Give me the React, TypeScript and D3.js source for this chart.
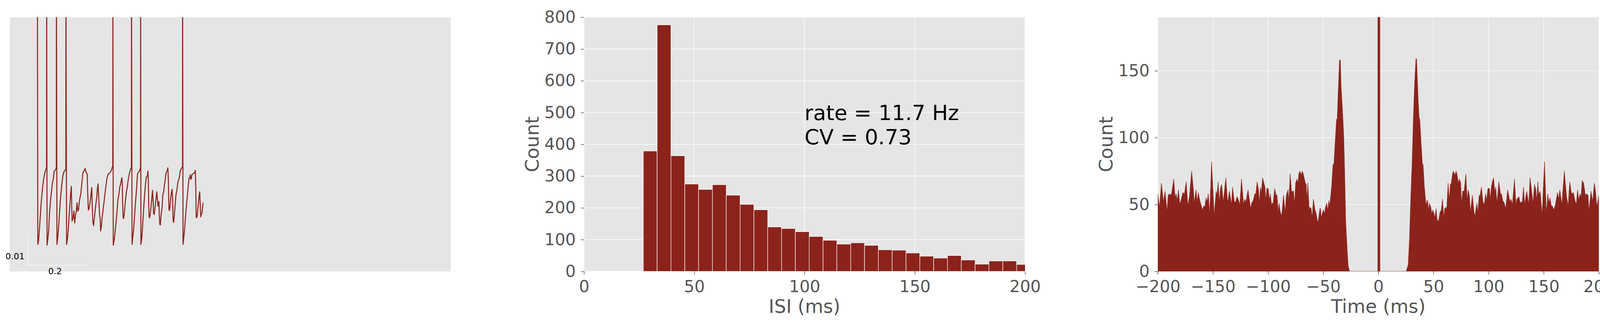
import React, { useEffect, useRef } from 'react';
import * as d3 from 'd3';

// ---- panel 1: membrane potential trace, [time (s), potential (mV)]
const traceSamples: [number, number][] = [
	[0.0010, 20], [0.0024, -70.1], [0.0048, -69.2], [0.0081, -65.0], [0.0119, -59.5], [0.0152, -54.9],
	[0.0190, -50.7], [0.0229, -47.5], [0.0262, -45.6], [0.0295, -44.2], [0.0324, -43.4], [0.0343, -42.8],
	[0.0348, 20], [0.0362, -70.4], [0.0390, -68.3], [0.0419, -65.5], [0.0452, -59.0], [0.0490, -54.4],
	[0.0524, -51.2], [0.0562, -47.9], [0.0595, -46.8], [0.0619, -44.2], [0.0652, -43.8], [0.0681, -43.4],
	[0.0700, -42.8], [0.0705, 20], [0.0724, -70.1], [0.0762, -66.9], [0.0810, -60.0], [0.0857, -53.5],
	[0.0905, -48.4], [0.0943, -45.6], [0.0976, -44.4], [0.1010, -43.8], [0.1048, -43.7], [0.1052, 20],
	[0.1076, -70.1], [0.1105, -68.3], [0.1143, -64.1], [0.1190, -56.7], [0.1224, -52.1], [0.1248, -49.5],
	[0.1276, -61.8], [0.1310, -60.9], [0.1343, -58.2], [0.1371, -62.5], [0.1405, -59.5], [0.1429, -58.6],
	[0.1457, -55.3], [0.1486, -58.3], [0.1510, -57.9], [0.1548, -54.4], [0.1595, -52.1], [0.1629, -48.8],
	[0.1667, -45.1], [0.1690, -44.2], [0.1724, -43.8], [0.1752, -43.1], [0.1776, -44.0], [0.1800, -44.7],
	[0.1829, -45.1], [0.1848, -52.1], [0.1871, -57.9], [0.1895, -57.4], [0.1914, -56.3], [0.1938, -54.9],
	[0.1971, -52.1], [0.1995, -49.9], [0.2014, -56.7], [0.2038, -62.3], [0.2062, -63.4], [0.2095, -60.4],
	[0.2133, -56.7], [0.2176, -53.5], [0.2200, -50.5], [0.2224, -48.6], [0.2252, -53.9], [0.2286, -60.4],
	[0.2300, -60.6], [0.2319, -65.3], [0.2343, -64.1], [0.2371, -60.9], [0.2405, -58.1], [0.2452, -54.4],
	[0.2500, -50.2], [0.2552, -46.5], [0.2595, -45.1], [0.2633, -44.9], [0.2657, -44.7], [0.2681, -44.2],
	[0.2714, -43.8], [0.2743, -42.7], [0.2762, -42.7], [0.2767, 20], [0.2781, -70.4], [0.2810, -68.8],
	[0.2833, -67.1], [0.2867, -63.7], [0.2905, -60.0], [0.2952, -54.2], [0.2976, -53.0], [0.3000, -51.2],
	[0.3024, -49.5], [0.3048, -48.8], [0.3071, -47.5], [0.3095, -46.4], [0.3110, -47.9], [0.3124, -55.8],
	[0.3143, -60.6], [0.3157, -60.9], [0.3176, -59.7], [0.3205, -56.7], [0.3233, -53.9], [0.3262, -51.4],
	[0.3286, -50.2], [0.3310, -48.4], [0.3333, -46.8], [0.3357, -45.6], [0.3381, -44.4], [0.3405, -43.8],
	[0.3424, -43.1], [0.3443, -42.8], [0.3448, 20], [0.3467, -70.1], [0.3490, -67.8], [0.3524, -65.0],
	[0.3557, -60.0], [0.3595, -54.9], [0.3633, -50.2], [0.3667, -45.1], [0.3700, -44.4], [0.3729, -44.2],
	[0.3752, -43.8], [0.3767, -43.1], [0.3776, -42.8], [0.3781, 20], [0.3790, -70.1], [0.3824, -67.8],
	[0.3857, -62.7], [0.3905, -55.3], [0.3952, -49.3], [0.3986, -46.3], [0.4024, -45.8], [0.4048, -44.0],
	[0.4062, -47.5], [0.4076, -55.3], [0.4090, -60.4], [0.4110, -60.6], [0.4129, -59.5], [0.4157, -57.2],
	[0.4181, -54.6], [0.4214, -50.9], [0.4238, -54.9], [0.4252, -59.0], [0.4276, -59.5], [0.4310, -56.7],
	[0.4338, -54.4], [0.4371, -51.4], [0.4395, -54.2], [0.4414, -56.5], [0.4433, -56.5], [0.4448, -54.9],
	[0.4462, -59.5], [0.4481, -63.0], [0.4500, -63.2], [0.4529, -59.5], [0.4562, -57.1], [0.4595, -52.1],
	[0.4624, -51.4], [0.4652, -48.8], [0.4681, -47.0], [0.4705, -44.9], [0.4729, -44.2], [0.4752, -44.0],
	[0.4776, -42.9], [0.4795, -47.7], [0.4814, -57.6], [0.4833, -58.1], [0.4857, -56.3], [0.4881, -53.5],
	[0.4905, -51.6], [0.4929, -50.5], [0.4948, -53.5], [0.4967, -61.6], [0.4986, -62.3], [0.5010, -60.0],
	[0.5038, -56.5], [0.5071, -52.5], [0.5110, -50.5], [0.5143, -47.9], [0.5167, -47.2], [0.5195, -46.3],
	[0.5224, -44.2], [0.5252, -43.5], [0.5286, -42.8], [0.5310, -42.8], [0.5314, 20], [0.5329, -70.1],
	[0.5357, -67.8], [0.5390, -64.1], [0.5429, -59.0], [0.5467, -54.9], [0.5500, -51.6], [0.5524, -48.8],
	[0.5548, -46.5], [0.5576, -46.3], [0.5595, -45.4], [0.5610, -47.0], [0.5629, -46.8], [0.5652, -45.4],
	[0.5681, -45.1], [0.5714, -44.9], [0.5748, -44.7], [0.5776, -43.8], [0.5795, -49.8], [0.5810, -60.4],
	[0.5833, -60.6], [0.5857, -59.0], [0.5881, -56.3], [0.5910, -53.5], [0.5938, -51.4], [0.5957, -55.8],
	[0.5976, -60.3], [0.6000, -59.3], [0.6024, -59.0], [0.6048, -56.3], [0.6062, -55.3],
];
const scaleBarTime = 0.2;   // s
const scaleBarVolt = 0.01;  // V
const scaleBarOrigin: [number, number] = [-0.0343, -77.5]; // (s, mV)

// ---- panel 2: ISI histogram
const isiBinStart = 26.9;
const isiBinWidth = 6.27;
const isiCounts = [379, 776, 364, 275, 258, 273, 240, 211, 194, 140, 135, 125, 110, 98,
	86, 90, 82, 68, 67, 58, 48, 42, 50, 36, 23, 33, 33, 22];
const isiTicks = [0, 50, 100, 150, 200];
const isiCountTicks = [0, 100, 200, 300, 400, 500, 600, 700, 800];
const statsLines = ["rate = 11.7 Hz", "CV = 0.73"];
const statsAnchor: [number, number] = [100, 400];

// ---- panel 3: autocorrelogram, [lag (ms), count]
const correlogram: [number, number][] = [
	[-200, 58], [-198.5, 48], [-196.7, 66], [-194.9, 52], [-193.4, 60], [-191.6, 45], [-190.6, 57],
	[-189.3, 58], [-188.4, 57], [-187.6, 58], [-185.5, 69], [-184.3, 55], [-183.4, 58], [-182.4, 53],
	[-181.3, 61], [-180.0, 50], [-179.0, 53], [-177.2, 59], [-175.8, 58], [-174.3, 67], [-172.7, 49],
	[-171.3, 56], [-169.3, 75], [-167.8, 62], [-166.9, 51], [-165.4, 61], [-164.2, 52], [-163.3, 59],
	[-161.9, 53], [-159.5, 46], [-158.3, 49], [-157.4, 48], [-156.2, 55], [-155.4, 52], [-154.2, 58],
	[-153.0, 43], [-151.2, 82], [-148.9, 42], [-147.1, 60], [-146.3, 57], [-145.3, 67], [-144.2, 52],
	[-143.2, 62], [-142.1, 65], [-140.6, 52], [-138.3, 70], [-136.7, 51], [-135.1, 60], [-133.2, 50],
	[-132.2, 63], [-130.6, 52], [-129.4, 52], [-128.2, 56], [-126.7, 53], [-125.6, 50], [-124.1, 69],
	[-122.2, 50], [-121.1, 54], [-120.0, 52], [-118.2, 61], [-115.8, 47], [-114.9, 51], [-113.5, 53],
	[-112.0, 58], [-111.1, 58], [-109.9, 67], [-108.7, 61], [-107.8, 51], [-107.0, 63], [-106.1, 59],
	[-105.0, 70], [-102.8, 63], [-102.2, 53], [-101.1, 62], [-99.9, 62], [-98.7, 53], [-97.9, 58],
	[-96.9, 50], [-96.1, 51], [-95.4, 51], [-94.0, 62], [-92.8, 57], [-91.9, 57], [-90.7, 44],
	[-90.0, 51], [-89.0, 45], [-88.1, 42], [-87.5, 43], [-86.0, 57], [-84.5, 44], [-83.4, 57],
	[-81.9, 61], [-81.2, 52], [-80.0, 73], [-78.6, 59], [-77.8, 60], [-76.9, 60], [-76.0, 50],
	[-75.0, 66], [-73.9, 69], [-72.9, 66], [-72.1, 73], [-71.0, 75], [-70.0, 72], [-68.9, 75],
	[-67.8, 72], [-66.2, 66], [-65.4, 65], [-64.7, 53], [-63.9, 66], [-62.7, 46], [-61.9, 48],
	[-60.9, 47], [-60.0, 40], [-58.9, 54], [-57.4, 46], [-56.6, 44], [-55.0, 37], [-54.4, 38],
	[-53.0, 47], [-52.4, 47], [-51.7, 40], [-50.6, 44], [-49.7, 46], [-48.9, 43], [-47.9, 48],
	[-46.8, 51], [-45.8, 45], [-45.0, 53], [-44.2, 49], [-43.2, 56], [-42.3, 64], [-41.1, 80],
	[-40.3, 80], [-39.1, 97], [-37.9, 114], [-37.3, 113], [-36.4, 134], [-35.2, 158], [-34.4, 158],
	[-33.8, 139], [-32.6, 122], [-31.4, 102], [-30.6, 77], [-29.6, 38], [-28.1, 14], [-27.3, 4],
	[-26.1, 0], [-0.5, 0], [0.5, 5000], [1.5, 0], [25.3, 0], [27.1, 5], [28.2, 23], [29.4, 54],
	[30.6, 80], [31.8, 115], [32.9, 140], [34.1, 159], [34.7, 159], [36.2, 127], [37.1, 114],
	[37.6, 114], [38.8, 96], [40.0, 80], [40.6, 80], [41.8, 63], [43.3, 49], [44.1, 53], [44.7, 53],
	[45.5, 45], [46.2, 51], [47.6, 48], [48.5, 43], [49.4, 46], [50.6, 43], [51.4, 40], [52.4, 47],
	[53.3, 39], [54.5, 37], [55.9, 44], [57.1, 46], [58.2, 54], [59.4, 40], [60.2, 47], [61.2, 48],
	[62.0, 46], [63.3, 66], [64.4, 53], [65.3, 65], [66.2, 66], [67.3, 73], [68.2, 75], [69.4, 72],
	[70.6, 75], [71.5, 72], [72.6, 66], [73.5, 69], [74.7, 66], [75.6, 50], [76.5, 60], [77.9, 60],
	[79.4, 73], [80.6, 52], [81.4, 61], [82.6, 57], [83.5, 44], [85.3, 57], [87.1, 42], [87.9, 43],
	[89.4, 51], [90.4, 44], [91.4, 57], [92.1, 56], [93.5, 63], [94.9, 52], [96.1, 50], [97.3, 58],
	[98.2, 53], [99.4, 62], [100.8, 62], [101.5, 53], [102.5, 63], [103.4, 67], [104.5, 70],
	[105.7, 59], [106.5, 63], [107.6, 51], [109.3, 67], [110.8, 58], [111.7, 58], [112.9, 53],
	[114.3, 51], [115.5, 47], [117.3, 61], [118.7, 55], [119.6, 52], [120.4, 54], [121.6, 50],
	[123.5, 69], [124.9, 49], [125.5, 54], [126.7, 55], [127.5, 56], [128.7, 51], [129.7, 52],
	[130.6, 52], [131.7, 63], [132.7, 50], [134.6, 60], [136.4, 50], [137.6, 70], [138.8, 62],
	[140.3, 51], [141.7, 65], [142.9, 61], [143.6, 52], [144.7, 67], [145.6, 57], [146.8, 60],
	[148.6, 42], [150.7, 82], [152.4, 43], [153.7, 58], [154.7, 51], [155.7, 55], [156.9, 49],
	[157.8, 49], [159.0, 46], [160.4, 49], [162.5, 59], [163.6, 54], [164.6, 61], [166.5, 50],
	[168.7, 75], [170.7, 56], [172.2, 49], [173.6, 67], [175.2, 58], [176.9, 59], [178.4, 53],
	[179.6, 50], [180.7, 61], [181.9, 53], [182.9, 58], [183.8, 55], [184.9, 68], [186.2, 66],
	[187.8, 57], [189.0, 58], [190.2, 57], [191.1, 45], [192.9, 60], [194.4, 52], [195.9, 66],
	[197.0, 60], [198.2, 48], [200.0, 57],
];
const lagTicks = [-200, -150, -100, -50, 0, 50, 100, 150, 200];
const lagCountTicks = [0, 50, 100, 150];

const W = 4158, H = 831;
const TOP = 44, BOTTOM = 694, PW = 1129;
const LEFTS = [25, 1495, 2964];
const BG = "#e5e5e5", INK = "#555555", RED = "#8b231b";
const FONT = "DejaVu Sans, Liberation Sans, sans-serif";

const App = () => {
	const ref = useRef<SVGSVGElement>(null);
	useEffect(() => drawChart());

	function styleAxis(g: any) {
		g.select(".domain").remove();
		g.selectAll(".tick line").attr("stroke", INK).attr("stroke-width", 1.5);
		g.selectAll(".tick text").attr("fill", INK).attr("font-size", 42).attr("font-family", FONT);
	}

	function frame(svg: any, i: number, grid: boolean, x: any, y: any, xt: number[], yt: number[]) {
		const left = LEFTS[i];
		svg.append("clipPath").attr("id", "clip" + i)
			.append("rect").attr("x", left).attr("y", TOP).attr("width", PW).attr("height", BOTTOM - TOP);
		svg.append("rect").attr("x", left).attr("y", TOP).attr("width", PW).attr("height", BOTTOM - TOP).attr("fill", BG);
		if (!grid) return;
		const g = svg.append("g").attr("clip-path", "url(#clip" + i + ")");
		g.selectAll(".gx").data(xt).enter().append("line")
			.attr("x1", (d: number) => x(d)).attr("x2", (d: number) => x(d))
			.attr("y1", TOP).attr("y2", BOTTOM).attr("stroke", "#fff").attr("stroke-width", 1.3);
		g.selectAll(".gy").data(yt).enter().append("line")
			.attr("y1", (d: number) => y(d)).attr("y2", (d: number) => y(d))
			.attr("x1", left).attr("x2", left + PW).attr("stroke", "#fff").attr("stroke-width", 1.3);
	}

	function axes(svg: any, i: number, x: any, y: any, xt: number[], yt: number[], xlabel: string) {
		const left = LEFTS[i];
		const fmt = (d: any) => (d < 0 ? "\u2212" : "") + Math.abs(d);
		svg.append("g").attr("transform", "translate(0," + BOTTOM + ")")
			.call(d3.axisBottom(x).tickValues(xt).tickSize(8).tickPadding(15).tickFormat(fmt))
			.call(styleAxis);
		svg.append("g").attr("transform", "translate(" + left + ",0)")
			.call(d3.axisLeft(y).tickValues(yt).tickSize(8).tickPadding(13).tickFormat(fmt))
			.call(styleAxis);
		svg.append("text").text(xlabel)
			.attr("x", left + PW / 2).attr("y", 800).attr("text-anchor", "middle")
			.attr("font-size", 48).attr("font-family", FONT).attr("fill", INK);
		svg.append("text").text("Count")
			.attr("transform", "translate(" + (left - 116) + "," + (TOP + BOTTOM) / 2 + ") rotate(-90)")
			.attr("text-anchor", "middle")
			.attr("font-size", 48).attr("font-family", FONT).attr("fill", INK);
	}

	function drawChart() {
		const svg = d3.select(ref.current);
		svg.selectAll("*").remove();

		// panel 1: trace with scale bars
		const x1 = d3.scaleLinear().domain([-0.1, 1.511]).range([LEFTS[0], LEFTS[0] + PW]);
		const y1 = d3.scaleLinear().domain([-79.7, 10.6]).range([BOTTOM, TOP]);
		frame(svg, 0, false, x1, y1, [], []);
		const [t0, v0] = scaleBarOrigin;
		const vTop = v0 + scaleBarVolt * 1000;
		svg.append("path")
			.attr("d", d3.line()([[x1(t0), y1(vTop)], [x1(t0), y1(v0)], [x1(t0 + scaleBarTime), y1(v0)]]))
			.attr("fill", "none").attr("stroke", "#f7f7f7").attr("stroke-width", 1.5);
		svg.append("text").text(String(scaleBarVolt))
			.attr("x", x1(t0) - 8).attr("y", y1(v0) - 15).attr("text-anchor", "end")
			.attr("font-size", 22).attr("font-family", FONT).attr("fill", "#000");
		svg.append("text").text(String(scaleBarTime))
			.attr("x", x1(t0 + scaleBarTime / 2)).attr("y", y1(v0) + 23).attr("text-anchor", "middle")
			.attr("font-size", 22).attr("font-family", FONT).attr("fill", "#000");
		const line = d3.line<[number, number]>().x(d => x1(d[0])).y(d => y1(d[1]));
		svg.append("path").attr("clip-path", "url(#clip0)")
			.attr("d", line(traceSamples))
			.attr("fill", "none").attr("stroke", RED).attr("stroke-width", 2.6).attr("stroke-linejoin", "round");

		// panel 2: ISI histogram
		const x2 = d3.scaleLinear().domain([0, 200]).range([LEFTS[1], LEFTS[1] + PW]);
		const y2 = d3.scaleLinear().domain([0, 800]).range([BOTTOM, TOP]);
		frame(svg, 1, true, x2, y2, isiTicks, isiCountTicks);
		svg.append("g").attr("clip-path", "url(#clip1)")
			.selectAll("rect").data(isiCounts).enter().append("rect")
			.attr("x", (_d, i) => x2(isiBinStart + i * isiBinWidth))
			.attr("width", x2(isiBinWidth) - x2(0))
			.attr("y", d => y2(d))
			.attr("height", d => y2(0) - y2(d))
			.attr("fill", RED).attr("stroke", "#fff").attr("stroke-width", 1.2);
		const stats = svg.append("text")
			.attr("x", x2(statsAnchor[0])).attr("y", y2(statsAnchor[1]))
			.attr("font-size", 54).attr("font-family", FONT).attr("fill", "#000");
		statsLines.forEach((s, i) => {
			stats.append("tspan").text(s)
				.attr("x", x2(statsAnchor[0]))
				.attr("y", y2(statsAnchor[1]) - (statsLines.length - 1 - i) * 62);
		});
		axes(svg, 1, x2, y2, isiTicks, isiCountTicks, "ISI (ms)");

		// panel 3: autocorrelogram
		const x3 = d3.scaleLinear().domain([-200, 200]).range([LEFTS[2], LEFTS[2] + PW]);
		const y3 = d3.scaleLinear().domain([0, 190]).range([BOTTOM, TOP]);
		frame(svg, 2, true, x3, y3, lagTicks, lagCountTicks.filter(d => d > 0));
		const area = d3.area<[number, number]>().x(d => x3(d[0])).y0(y3(0)).y1(d => y3(d[1]));
		svg.append("path").attr("clip-path", "url(#clip2)")
			.attr("d", area(correlogram))
			.attr("fill", RED).attr("stroke", RED).attr("stroke-width", 1).attr("stroke-linejoin", "round");
		axes(svg, 2, x3, y3, lagTicks, lagCountTicks, "Time (ms)");
	}

	return <svg ref={ref} width={W} height={H} style={{ position: "fixed", left: 0, top: 0, background: "#fff" }}></svg>;
};

export default App;
